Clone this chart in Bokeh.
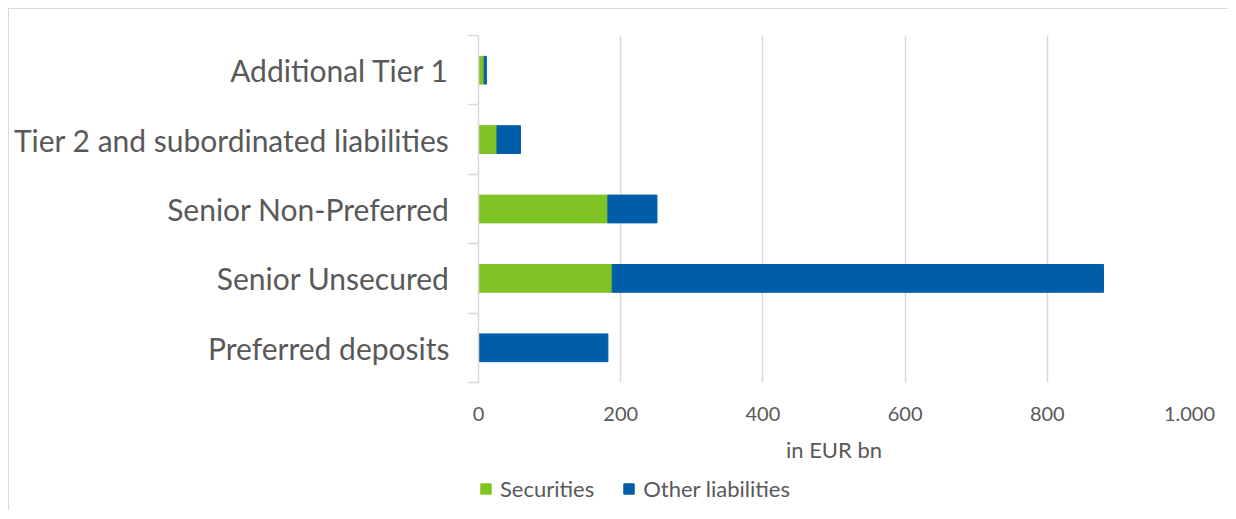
from bokeh.plotting import figure
from bokeh.layouts import column
from bokeh.models import FixedTicker, Legend, LegendItem, Range1d, ColumnDataSource
from bokeh.embed import file_html
from bokeh.resources import INLINE

categories = ["Preferred deposits", "Senior Unsecured", "Senior Non-Preferred",
              "Tier 2 and subordinated liabilities", "Additional Tier 1"]
securities = [0, 188, 182, 26, 8]
other_liabilities = [182, 691, 69, 33, 3]
x_ticks = [0, 200, 400, 600, 800, 1000]
x_tick_labels = ["0", "200", "400", "600", "800", "1.000"]
series_names = ["Securities", "Other liabilities"]
x_title = "in EUR bn"

GREEN = "#7FC424"
BLUE = "#005EA8"
TEXT = "#595959"
GRID = "#D9D9D9"
FONT = "Lato"

ypos = [i + 0.5 for i in range(len(categories))]
totals = [s + o for s, o in zip(securities, other_liabilities)]
src = ColumnDataSource(dict(y=ypos, sec=securities, tot=totals, zero=[0] * len(ypos)))

p = figure(width=1220, height=461, output_backend="svg", toolbar_location=None,
           x_range=Range1d(0, 1000), y_range=Range1d(0, len(categories)),
           min_border_left=469, min_border_right=40, min_border_top=26, min_border_bottom=88)
p.styles = {"border-top": "1px solid #D9D9D9", "border-left": "1px solid #D9D9D9"}
p.outline_line_color = None

r1 = p.hbar(y="y", left="zero", right="sec", height=0.4, color=GREEN, source=src)
r2 = p.hbar(y="y", left="sec", right="tot", height=0.4, color=BLUE, source=src)

# x axis
xa = p.xaxis[0]
xa.ticker = FixedTicker(ticks=x_ticks)
xa.major_label_overrides = {t: l for t, l in zip(x_ticks, x_tick_labels)}
xa.axis_line_color = None
xa.major_tick_line_color = None
xa.minor_tick_line_color = None
xa.major_label_standoff = 18
xa.major_label_text_font = FONT
xa.major_label_text_font_size = "20px"
xa.major_label_text_color = TEXT
xa.axis_label = x_title
xa.axis_label_text_font = FONT
xa.axis_label_text_font_size = "22px"
xa.axis_label_text_font_style = "normal"
xa.axis_label_text_color = TEXT
xa.axis_label_standoff = 12

# y axis
ya = p.yaxis[0]
ya.ticker = FixedTicker(ticks=ypos, minor_ticks=list(range(len(categories) + 1)))
ya.major_label_overrides = {y: c for y, c in zip(ypos, categories)}
ya.axis_line_color = GRID
ya.axis_line_width = 1.5
ya.major_tick_line_color = None
ya.major_tick_out = 0
ya.major_tick_in = 0
ya.minor_tick_line_color = GRID
ya.minor_tick_line_width = 1.5
ya.minor_tick_out = 10
ya.minor_tick_in = 0
ya.major_label_standoff = 19
ya.major_label_text_font = FONT
ya.major_label_text_font_size = "30px"
ya.major_label_text_color = TEXT

p.xgrid.ticker = FixedTicker(ticks=x_ticks)
p.xgrid.grid_line_color = GRID
p.xgrid.grid_line_width = 1.5
p.ygrid.grid_line_color = None

# legend strip below the chart (its frame is aligned with the chart's frame);
# hidden copies of the bar renderers only feed the legend swatches
lg = figure(width=1220, height=41, output_backend="svg", toolbar_location=None,
            min_border_left=0, min_border_right=0, min_border_top=0, min_border_bottom=0,
            x_range=Range1d(0, 1000), y_range=Range1d(0, len(categories)))
lg.styles = {"border-left": "1px solid #D9D9D9"}
lg.axis.visible = False
lg.grid.grid_line_color = None
lg.outline_line_color = None
l1 = lg.hbar(y="y", left="zero", right="sec", height=0.4, color=GREEN, source=src)
l2 = lg.hbar(y="y", left="sec", right="tot", height=0.4, color=BLUE, source=src)
l1.visible = False
l2.visible = False

legend = Legend(items=[LegendItem(label=series_names[0], renderers=[l1]),
                       LegendItem(label=series_names[1], renderers=[l2])],
                orientation="horizontal", location=(1, 8),
                padding=0, margin=0, spacing=28, label_standoff=8,
                glyph_width=13, glyph_height=13, label_height=13,
                border_line_color=None, background_fill_alpha=0,
                inactive_fill_alpha=0,
                label_text_font=FONT, label_text_font_size="22px", label_text_color=TEXT)
lg.add_layout(legend, "center")

layout = column(p, lg, spacing=0)
layout.styles = {"margin-left": "8px", "margin-top": "8px"}

open("out.html", "w").write(file_html(layout, INLINE))
